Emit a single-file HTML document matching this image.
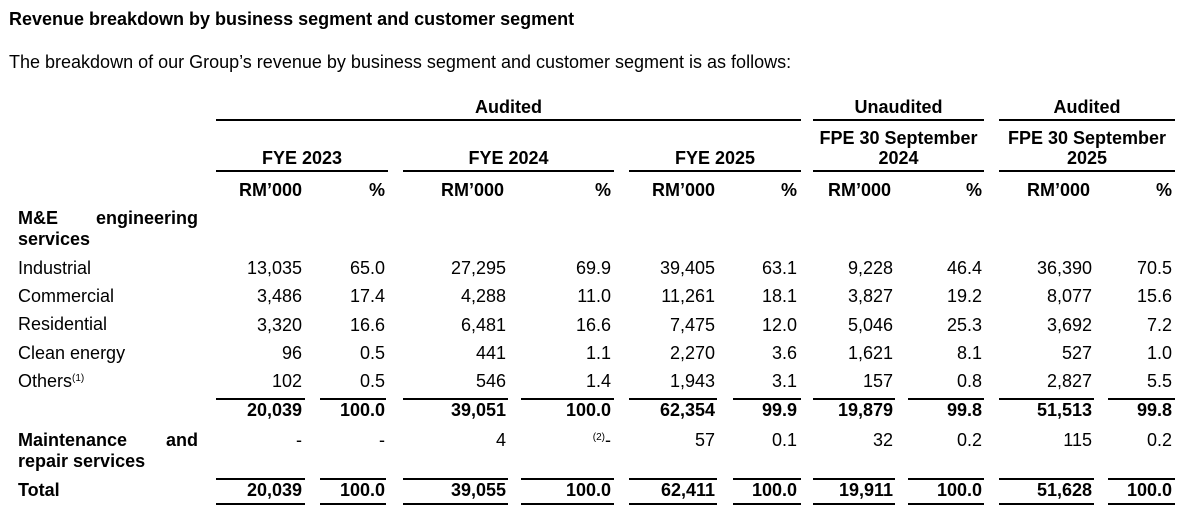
<!DOCTYPE html>
<html><head><meta charset="utf-8"><style>
body{margin:0;width:1200px;height:524px;background:#fff;position:relative;overflow:hidden;font-family:"Liberation Sans",Arial,sans-serif;color:#000;font-size:18px}
div{position:absolute;white-space:nowrap;line-height:20px}
.b{font-weight:bold}
.r{text-align:right}
.c{text-align:center}
.l{height:2px;background:#000;line-height:0}
sup{font-size:10px;vertical-align:6px;line-height:0}
.j{display:flex;justify-content:space-between;width:180px}
</style></head><body>
<div class="b" style="left:9px;top:9px">Revenue breakdown by business segment and customer segment</div>
<div style="left:9px;top:52px">The breakdown of our Group’s revenue by business segment and customer segment is as follows:</div>

<div class="b c" style="left:216px;width:585px;top:97px">Audited</div>
<div class="b c" style="left:813px;width:171px;top:97px">Unaudited</div>
<div class="b c" style="left:999px;width:176px;top:97px">Audited</div>
<div class="l" style="left:216px;width:585px;top:119px"></div>
<div class="l" style="left:813px;width:171px;top:119px"></div>
<div class="l" style="left:999px;width:176px;top:119px"></div>

<div class="b c" style="left:216px;width:172px;top:148px">FYE 2023</div>
<div class="b c" style="left:403px;width:211px;top:148px">FYE 2024</div>
<div class="b c" style="left:629px;width:172px;top:148px">FYE 2025</div>
<div class="b c" style="left:803px;width:191px;top:128px">FPE 30 September<br>2024</div>
<div class="b c" style="left:989px;width:196px;top:128px">FPE 30 September<br>2025</div>
<div class="l" style="left:216px;width:172px;top:170px"></div>
<div class="l" style="left:403px;width:211px;top:170px"></div>
<div class="l" style="left:629px;width:172px;top:170px"></div>
<div class="l" style="left:813px;width:171px;top:170px"></div>
<div class="l" style="left:999px;width:176px;top:170px"></div>

<div class="b" style="left:239px;top:180px">RM’000</div><div class="b r" style="right:815px;top:180px">%</div>
<div class="b" style="left:441px;top:180px">RM’000</div><div class="b r" style="right:589px;top:180px">%</div>
<div class="b" style="left:652px;top:180px">RM’000</div><div class="b r" style="right:403px;top:180px">%</div>
<div class="b" style="left:828px;top:180px">RM’000</div><div class="b r" style="right:218px;top:180px">%</div>
<div class="b" style="left:1027px;top:180px">RM’000</div><div class="b r" style="right:28px;top:180px">%</div>

<div class="b j" style="left:18px;top:208px"><span>M&amp;E</span><span>engineering</span></div>
<div class="b" style="left:18px;top:229px">services</div>

<div style="left:18px;top:258px">Industrial</div>
<div style="left:18px;top:286px">Commercial</div>
<div style="left:18px;top:314px">Residential</div>
<div style="left:18px;top:343px">Clean energy</div>
<div style="left:18px;top:371px">Others<sup>(1)</sup></div>

<div class="r" style="right:898px;top:254px;line-height:28.3px">13,035<br>3,486<br>3,320<br>96<br>102</div>
<div class="r" style="right:815px;top:254px;line-height:28.3px">65.0<br>17.4<br>16.6<br>0.5<br>0.5</div>
<div class="r" style="right:694px;top:254px;line-height:28.3px">27,295<br>4,288<br>6,481<br>441<br>546</div>
<div class="r" style="right:589px;top:254px;line-height:28.3px">69.9<br>11.0<br>16.6<br>1.1<br>1.4</div>
<div class="r" style="right:485px;top:254px;line-height:28.3px">39,405<br>11,261<br>7,475<br>2,270<br>1,943</div>
<div class="r" style="right:403px;top:254px;line-height:28.3px">63.1<br>18.1<br>12.0<br>3.6<br>3.1</div>
<div class="r" style="right:307px;top:254px;line-height:28.3px">9,228<br>3,827<br>5,046<br>1,621<br>157</div>
<div class="r" style="right:218px;top:254px;line-height:28.3px">46.4<br>19.2<br>25.3<br>8.1<br>0.8</div>
<div class="r" style="right:108px;top:254px;line-height:28.3px">36,390<br>8,077<br>3,692<br>527<br>2,827</div>
<div class="r" style="right:28px;top:254px;line-height:28.3px">70.5<br>15.6<br>7.2<br>1.0<br>5.5</div>

<div class="l" style="left:216px;width:89px;top:398px"></div><div class="l" style="left:320px;width:66px;top:398px"></div>
<div class="l" style="left:403px;width:105px;top:398px"></div><div class="l" style="left:521px;width:93px;top:398px"></div>
<div class="l" style="left:629px;width:88px;top:398px"></div><div class="l" style="left:733px;width:68px;top:398px"></div>
<div class="l" style="left:813px;width:82px;top:398px"></div><div class="l" style="left:908px;width:76px;top:398px"></div>
<div class="l" style="left:999px;width:95px;top:398px"></div><div class="l" style="left:1108px;width:67px;top:398px"></div>

<div class="b r" style="right:898px;top:400px">20,039</div><div class="b r" style="right:815px;top:400px">100.0</div>
<div class="b r" style="right:694px;top:400px">39,051</div><div class="b r" style="right:589px;top:400px">100.0</div>
<div class="b r" style="right:485px;top:400px">62,354</div><div class="b r" style="right:403px;top:400px">99.9</div>
<div class="b r" style="right:307px;top:400px">19,879</div><div class="b r" style="right:218px;top:400px">99.8</div>
<div class="b r" style="right:108px;top:400px">51,513</div><div class="b r" style="right:28px;top:400px">99.8</div>

<div class="b j" style="left:18px;top:430px"><span>Maintenance</span><span>and</span></div>
<div class="b" style="left:18px;top:451px">repair services</div>
<div class="r" style="right:898px;top:430px">-</div><div class="r" style="right:815px;top:430px">-</div>
<div class="r" style="right:694px;top:430px">4</div><div class="r" style="right:589px;top:430px"><sup>(2)</sup>-</div>
<div class="r" style="right:485px;top:430px">57</div><div class="r" style="right:403px;top:430px">0.1</div>
<div class="r" style="right:307px;top:430px">32</div><div class="r" style="right:218px;top:430px">0.2</div>
<div class="r" style="right:108px;top:430px">115</div><div class="r" style="right:28px;top:430px">0.2</div>

<div class="l" style="left:216px;width:89px;top:478px"></div><div class="l" style="left:320px;width:66px;top:478px"></div>
<div class="l" style="left:403px;width:105px;top:478px"></div><div class="l" style="left:521px;width:93px;top:478px"></div>
<div class="l" style="left:629px;width:88px;top:478px"></div><div class="l" style="left:733px;width:68px;top:478px"></div>
<div class="l" style="left:813px;width:82px;top:478px"></div><div class="l" style="left:908px;width:76px;top:478px"></div>
<div class="l" style="left:999px;width:95px;top:478px"></div><div class="l" style="left:1108px;width:67px;top:478px"></div>

<div class="b" style="left:18px;top:480px">Total</div>
<div class="b r" style="right:898px;top:480px">20,039</div><div class="b r" style="right:815px;top:480px">100.0</div>
<div class="b r" style="right:694px;top:480px">39,055</div><div class="b r" style="right:589px;top:480px">100.0</div>
<div class="b r" style="right:485px;top:480px">62,411</div><div class="b r" style="right:403px;top:480px">100.0</div>
<div class="b r" style="right:307px;top:480px">19,911</div><div class="b r" style="right:218px;top:480px">100.0</div>
<div class="b r" style="right:108px;top:480px">51,628</div><div class="b r" style="right:28px;top:480px">100.0</div>

<div class="l" style="left:216px;width:89px;top:503px"></div><div class="l" style="left:320px;width:66px;top:503px"></div>
<div class="l" style="left:403px;width:105px;top:503px"></div><div class="l" style="left:521px;width:93px;top:503px"></div>
<div class="l" style="left:629px;width:88px;top:503px"></div><div class="l" style="left:733px;width:68px;top:503px"></div>
<div class="l" style="left:813px;width:82px;top:503px"></div><div class="l" style="left:908px;width:76px;top:503px"></div>
<div class="l" style="left:999px;width:95px;top:503px"></div><div class="l" style="left:1108px;width:67px;top:503px"></div>
</body></html>
